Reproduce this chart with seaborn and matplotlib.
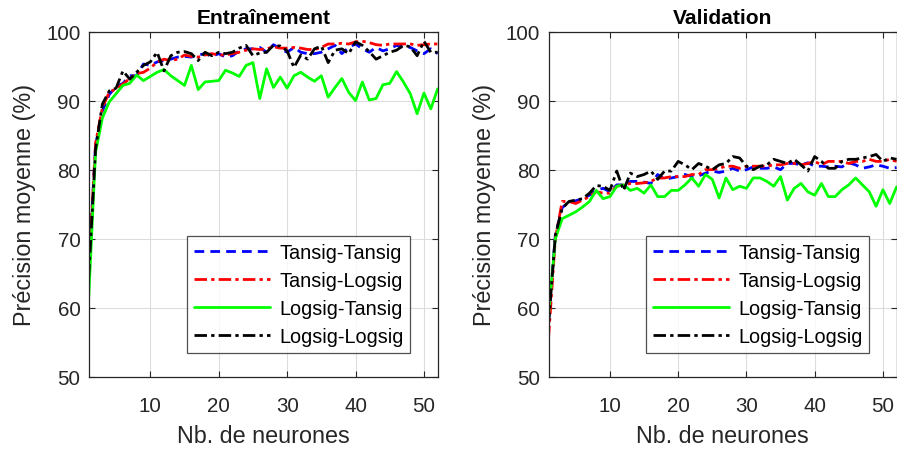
import numpy as np
import pandas as pd
import matplotlib
matplotlib.use("Agg")
import matplotlib.pyplot as plt
from matplotlib import font_manager
import seaborn as sns

neurons = list(range(1, 53))
series_names = ["Tansig-Tansig", "Tansig-Logsig", "Logsig-Tansig", "Logsig-Logsig"]

# Training (Entraînement)
train_tt = [65.5, 83.5, 88.5, 90.9, 92.0, 92.5, 93.6, 93.6, 95.3, 95.1, 95.6, 95.8, 96.0, 96.3, 96.4, 96.3,
            96.6, 96.8, 96.4, 96.8, 96.3, 96.5, 97.2, 97.5, 97.5, 97.7,
            97.0, 98.1, 97.5, 97.0, 97.7, 97.0, 96.8, 96.8, 97.0, 97.5, 98.0, 96.8, 97.7, 98.2, 97.5, 97.0,
            97.7, 97.2, 97.5, 98.0, 97.7, 97.7, 97.2, 96.8, 97.5, 96.8]
train_tl = [65.0, 83.8, 89.0, 91.2, 91.7, 92.4, 93.2, 93.9, 94.1, 94.7, 95.6, 96.0, 95.8, 96.0, 96.6, 96.4,
            96.3, 96.6, 96.8, 96.6, 96.6, 96.8, 97.0, 97.3, 97.5, 97.4,
            97.5, 97.8, 97.6, 97.6, 97.7, 97.6, 97.4, 97.4, 97.7, 98.2, 98.2, 98.3, 98.2, 98.5, 98.6, 98.4,
            98.1, 98.0, 98.2, 98.2, 98.2, 98.2, 98.0, 98.1, 98.2, 98.2]
train_lt = [61.5, 82.5, 87.5, 89.8, 91.0, 92.2, 92.5, 93.7, 92.9, 93.5, 94.1, 94.5, 93.6, 92.9, 92.2, 95.1,
            91.6, 92.7, 92.8, 92.9, 94.4, 94.0, 93.5, 95.1, 95.5, 90.3,
            94.6, 91.9, 93.4, 91.8, 93.6, 94.1, 93.4, 92.8, 93.6, 90.5, 91.9, 93.2, 91.2, 90.0, 92.7, 90.1,
            90.3, 92.3, 92.5, 94.2, 92.7, 91.0, 88.1, 91.1, 88.8, 91.7]
train_ll = [64.5, 83.0, 89.5, 91.4, 91.8, 94.3, 93.1, 94.1, 95.1, 95.6, 97.0, 94.3, 96.5, 97.0, 97.1, 96.8,
            95.8, 97.0, 96.5, 97.0, 96.8, 97.0, 97.6, 98.0, 96.5, 96.9,
            97.0, 98.0, 97.9, 97.2, 94.8, 96.6, 96.0, 97.5, 97.9, 95.5, 97.3, 97.5, 96.8, 98.5, 98.0, 97.1,
            96.0, 96.5, 97.0, 97.3, 98.0, 97.8, 96.5, 98.6, 97.0, 97.0]

# Validation
val_tt = [58.0, 70.5, 74.5, 75.3, 75.5, 75.8, 76.3, 77.0, 77.3, 76.8, 77.8, 77.8, 78.3, 78.3, 78.2, 78.0,
          79.3, 78.6, 78.8, 79.0, 79.3, 79.0, 79.1, 79.5, 79.8,
          79.6, 79.8, 80.2, 79.8, 80.0, 80.4, 80.2, 80.2, 80.4, 80.0, 80.9, 80.9, 80.7, 81.0, 80.5, 80.5,
          80.4, 80.5, 80.4, 81.0, 80.7, 80.2, 80.4, 80.7, 80.5, 80.2, 80.3]
val_tl = [55.6, 70.0, 75.4, 75.4, 75.1, 75.6, 76.1, 76.8, 76.6, 76.6, 77.6, 77.8, 78.0, 78.0, 78.1, 78.3,
          78.8, 78.8, 79.0, 79.0, 79.0, 79.3, 79.3, 80.0, 80.0,
          80.2, 80.5, 80.5, 80.2, 80.5, 80.5, 80.5, 80.5, 80.7, 80.7, 80.9, 80.9, 80.7, 80.9, 81.2, 80.7,
          81.2, 81.2, 81.2, 80.9, 81.2, 81.2, 81.5, 81.2, 81.2, 81.5, 81.2]
val_lt = [59.0, 70.0, 72.9, 73.4, 73.9, 74.6, 75.4, 77.0, 75.8, 76.1, 77.6, 77.8, 77.0, 77.3, 76.6, 77.8,
          76.1, 76.1, 77.0, 77.0, 77.8, 78.8, 77.6, 79.3, 78.6,
          75.9, 78.8, 77.1, 77.6, 77.3, 78.8, 78.8, 78.3, 77.6, 79.0, 75.6, 77.3, 78.0, 76.8, 76.3, 78.0,
          76.1, 76.1, 77.1, 77.8, 78.8, 77.8, 76.8, 74.7, 77.1, 75.1, 77.5]
val_ll = [57.5, 70.5, 74.4, 75.4, 75.6, 75.8, 76.6, 77.7, 77.6, 77.0, 79.8, 77.0, 79.5, 79.0, 79.3, 79.8,
          78.6, 79.8, 79.8, 81.2, 80.7, 80.0, 80.9, 80.5, 80.0,
          80.7, 80.9, 81.9, 81.7, 80.5, 80.0, 80.5, 80.7, 81.5, 81.2, 80.9, 81.5, 80.7, 79.8, 81.9, 81.2,
          80.2, 80.2, 81.2, 81.5, 81.5, 81.7, 81.9, 82.2, 81.2, 81.7, 81.5]

titles = ["Entraînement", "Validation"]
xticks = [10, 20, 30, 40, 50]
yticks = [50, 60, 70, 80, 90, 100]

def make_df(vals):
    rows = []
    for name, v in zip(series_names, vals):
        for n, y in zip(neurons, v):
            rows.append({"n": n, "acc": y, "Config": name})
    return pd.DataFrame(rows)

df_train = make_df([train_tt, train_tl, train_lt, train_ll])
df_val = make_df([val_tt, val_tl, val_lt, val_ll])

sns.set_style("white")
available = {f.name for f in font_manager.fontManager.ttflist}
if "Liberation Sans Narrow" in available:
    plt.rcParams["font.family"] = ["Liberation Sans Narrow", "DejaVu Sans"]
    k = 1.0
else:
    plt.rcParams["font.family"] = ["Liberation Sans", "DejaVu Sans"]
    k = 0.82

palette = {"Tansig-Tansig": "#0000ff", "Tansig-Logsig": "#ff0000",
           "Logsig-Tansig": "#00ff00", "Logsig-Logsig": "#000000"}
dashes = {"Tansig-Tansig": (3.5, 2.2), "Tansig-Logsig": (4.5, 1.5, 1.2, 1.5),
          "Logsig-Tansig": "", "Logsig-Logsig": (4.5, 1.5, 1.2, 1.5)}

fig = plt.figure(figsize=(8.97, 4.52), dpi=100)
ax1 = fig.add_axes([0.0989, 0.164, 0.389, 0.764])
ax2 = fig.add_axes([0.6115, 0.164, 0.388, 0.764])

tc = "#262626"
for ax, df, title in zip([ax1, ax2], [df_train, df_val], titles):
    sns.lineplot(data=df, x="n", y="acc", hue="Config", style="Config",
                 palette=palette, dashes=dashes, linewidth=2.0, ax=ax,
                 hue_order=series_names, style_order=series_names, legend=False)
    ax.set_xlim(1, 52)
    ax.set_ylim(50, 100)
    ax.set_xticks(xticks)
    ax.set_yticks(yticks)
    ax.grid(True, color="#dcdcdc", linewidth=0.8)
    ax.tick_params(direction="in", length=4, labelsize=18 * k, colors=tc,
                   top=True, right=True, bottom=True, left=True)
    ax.tick_params(axis="x", pad=14)
    ax.tick_params(axis="y", pad=6)
    for s in ax.spines.values():
        s.set_visible(True)
        s.set_color(tc)
        s.set_linewidth(0.9)
    ax.set_xlabel("Nb. de neurones", fontsize=20.5 * k, color=tc, labelpad=6)
    ax.set_ylabel("Précision moyenne (%)", fontsize=20.5 * k, color=tc, labelpad=7)
    ax.set_title(title, fontsize=18.5 * k, fontweight="bold", color="black", pad=6)
    handles = ax.get_lines()[:4]
    leg = ax.legend(handles, series_names, loc="lower right", bbox_to_anchor=(0.922, 0.069),
                    borderaxespad=0, fontsize=17.5 * k, handlelength=3.8, frameon=True,
                    fancybox=False, borderpad=0.35, labelspacing=0.45, handletextpad=0.45)
    leg.get_frame().set_edgecolor(tc)
    leg.get_frame().set_linewidth(0.9)
    for t in leg.get_texts():
        t.set_color("black")

fig.savefig("out.png", dpi=100)
